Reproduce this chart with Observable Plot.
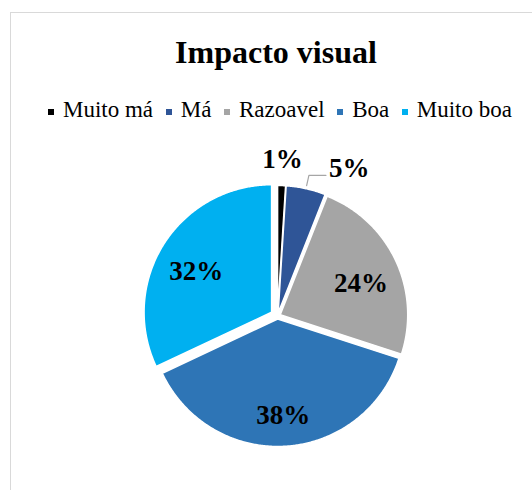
<!DOCTYPE html>
<html>
<head>
<meta charset="utf-8">
<script src="https://cdn.jsdelivr.net/npm/d3@7"></script>
<script src="https://cdn.jsdelivr.net/npm/@observablehq/plot@0.6"></script>
<style>
  html, body { margin: 0; padding: 0; background: #fff; }
  body { width: 532px; height: 490px; overflow: hidden; position: relative; font-family: "Liberation Serif", "Times New Roman", serif; }
  #frame { position: absolute; left: 10px; top: 12px; width: 600px; height: 600px; border: 1px solid #d9d9d9; box-sizing: border-box; }
  #title { position: absolute; left: 10px; top: 36px; width: 532px; text-align: center; font-weight: bold; font-size: 32px; line-height: 32px; color: #000; }
  #legend { position: absolute; left: 14px; top: 98px; width: 532px; display: flex; justify-content: center; }
  #legend, #legend * { font-family: "Liberation Serif", "Times New Roman", serif !important; font-size: 23px !important; line-height: 23px !important; color: #000 !important; }
  #legend > div { min-height: 0 !important; margin: 0 !important; flex-wrap: nowrap !important; display: flex !important; align-items: center !important; }
  #legend span { margin-right: 12.6px !important; display: inline-flex !important; align-items: center !important; white-space: nowrap; }
  #legend span:last-child { margin-right: 0 !important; }
  #legend span > svg { margin-right: 9px !important; position: relative; top: 2px; }
  #chart { position: absolute; left: 10px; top: 135px; width: 532px; height: 355px; }
  #chart svg { max-width: none !important; width: 532px !important; height: 355px !important; }
</style>
</head>
<body>
<div id="frame"></div>
<div id="title"></div>
<div id="legend"></div>
<div id="chart"></div>
<script>
const chartTitle = "Impacto visual";
const categories = ["Muito má", "Má", "Razoavel", "Boa", "Muito boa"];
const percents = [1, 5, 24, 38, 32];
const colors = ["#000000", "#2F5597", "#A5A5A5", "#2E75B6", "#00B0F0"];

// geometry / style (not data)
const R = 127.5;
const explodeDefault = 3;
const explodeOverride = {"Muito boa": 7};
const serif = "Liberation Serif, Times New Roman, serif";

const total = d3.sum(percents);
let acc = 0;
const slices = categories.map((c, i) => {
  const a0 = acc / total * 2 * Math.PI; acc += percents[i];
  const a1 = acc / total * 2 * Math.PI;
  const mid = (a0 + a1) / 2;
  const ex = explodeOverride[c] ?? explodeDefault;
  return {cat: c, value: percents[i], a0, a1, mid, ex,
          ox: ex * Math.sin(mid), oy: ex * Math.cos(mid)};
});

const polyPts = slices.flatMap(s => {
  const n = Math.max(2, Math.ceil((s.a1 - s.a0) / (Math.PI / 360)));
  const pts = [{cat: s.cat, x: s.ox, y: s.oy}];
  for (let k = 0; k <= n; k++) {
    const t = s.a0 + (s.a1 - s.a0) * k / n;
    pts.push({cat: s.cat, x: s.ox + R * Math.sin(t), y: s.oy + R * Math.cos(t)});
  }
  return pts;
});

const inLabels = [], outLabels = [], startLabels = [], leaderPts = [];
for (const s of slices) {
  const text = `${s.value}%`;
  const sx = Math.sin(s.mid), cy = Math.cos(s.mid);
  if (s.value >= 10) {
    const r = 0.7 * R;
    inLabels.push({text, x: s.ox + r * sx, y: s.oy + r * cy});
  } else if (s.value < 3) {
    const r = R + s.ex + 26.5;
    outLabels.push({text, x: r * sx, y: r * cy});
  } else {
    const r0 = R + s.ex + 3, r1 = R + s.ex + 13.5;
    const ex = r1 * sx, ey = r1 * cy;
    leaderPts.push({cat: s.cat, x: r0 * sx, y: r0 * cy});
    leaderPts.push({cat: s.cat, x: ex, y: ey});
    leaderPts.push({cat: s.cat, x: ex + 17, y: ey});
    startLabels.push({text, x: ex + 20, y: ey + 7});
  }
}

const textStyle = {x: "x", y: "y", text: "text", fontSize: 27, fontWeight: "bold", fill: "black", fontFamily: serif};

const chart = Plot.plot({
  width: 532,
  height: 355,
  margin: 0,
  style: {fontFamily: serif, background: "transparent", overflow: "visible", maxWidth: "none"},
  x: {domain: [-267, 265], axis: null},
  y: {domain: [-174.5, 180.5], axis: null},
  color: {domain: categories, range: colors},
  marks: [
    Plot.line(polyPts, {x: "x", y: "y", z: "cat", fill: "cat", stroke: "white", strokeWidth: 1.5, curve: "linear-closed"}),
    Plot.line(leaderPts, {x: "x", y: "y", z: "cat", stroke: "#A6A6A6", strokeWidth: 1.2}),
    Plot.text(inLabels, {...textStyle, dy: 7}),
    Plot.text(outLabels, textStyle),
    Plot.text(startLabels, {...textStyle, textAnchor: "start"})
  ]
});

document.getElementById("title").textContent = chartTitle;
document.getElementById("chart").appendChild(chart);
const legend = chart.legend("color", {legend: "swatches", swatchSize: 6});
legend.querySelectorAll("*").forEach(el => { el.style.fontFamily = '"Liberation Serif", "Times New Roman", serif'; });
legend.style.fontFamily = '"Liberation Serif", "Times New Roman", serif';
document.getElementById("legend").appendChild(legend);
</script>
</body>
</html>
